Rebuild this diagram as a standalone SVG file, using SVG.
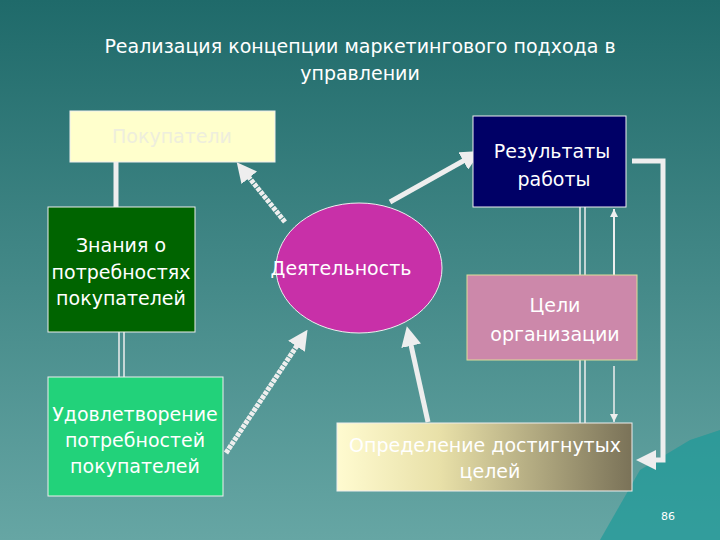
<svg xmlns="http://www.w3.org/2000/svg" width="720" height="540" viewBox="0 0 720 540">
<defs>
<linearGradient id="bg" x1="0" y1="0" x2="0" y2="1"><stop offset="0" stop-color="#1f6a6a"/><stop offset="1" stop-color="#66a6a4"/></linearGradient>
<linearGradient id="opr" x1="0" y1="0" x2="1" y2="0"><stop offset="0" stop-color="#fffbd0"/><stop offset="0.35" stop-color="#e8e0a8"/><stop offset="1" stop-color="#7a7258"/></linearGradient>
<marker id="ah" markerWidth="4" markerHeight="4" refX="2" refY="2" orient="auto" markerUnits="strokeWidth"><path d="M0,0 L4,2 L0,4 Z" fill="#eeeeee"/></marker>
<marker id="sh" markerWidth="8" markerHeight="8" refX="8" refY="4" orient="auto" markerUnits="userSpaceOnUse"><path d="M0,0 L8,4 L0,8 Z" fill="#eeeeee"/></marker>
<style>
.t{font-family:"DejaVu Sans","Liberation Sans",sans-serif;font-size:19px;text-anchor:middle}
.c{stroke:#eeeeee;fill:none}
</style>
</defs>
<rect width="720" height="540" fill="url(#bg)"/>
<path d="M600,540 L640,470 L665,455 L690,440 L720,430 L720,540 Z" fill="#1c9a98" opacity="0.7"/>
<text class="t" x="360" y="53" fill="#ffffff">Реализация концепции маркетингового подхода в</text>
<text class="t" x="360" y="80" fill="#ffffff">управлении</text>
<g id="connectors">
<line class="c" x1="116" y1="162" x2="116" y2="207" stroke-width="5"/>
<line class="c" x1="119" y1="332" x2="119" y2="377" stroke-width="1.5"/>
<line class="c" x1="124" y1="332" x2="124" y2="377" stroke-width="1.5"/>
<line class="c" x1="580" y1="207" x2="580" y2="423" stroke-width="1.5"/>
<line class="c" x1="585" y1="207" x2="585" y2="423" stroke-width="1.5"/>
<line class="c" x1="614" y1="275" x2="614" y2="209" stroke-width="2" marker-end="url(#sh)"/>
<line class="c" x1="614" y1="366" x2="614" y2="422" stroke-width="1.5" marker-end="url(#sh)"/>
<polyline class="c" points="632,161 663,161 663,460 646,460" stroke-width="5" marker-end="url(#ah)"/>
<line class="c" x1="285" y1="222" x2="243" y2="170" stroke-width="5" stroke-dasharray="4 1" marker-end="url(#ah)"/>
<line class="c" x1="390" y1="202" x2="472" y2="156" stroke-width="5" marker-end="url(#ah)"/>
<line class="c" x1="226" y1="453" x2="302" y2="338" stroke-width="5" stroke-dasharray="4 1" marker-end="url(#ah)"/>
<line class="c" x1="428" y1="422" x2="409" y2="336" stroke-width="5" marker-end="url(#ah)"/>
</g>
<g id="pokupateli"><rect x="70" y="111" width="205" height="51" fill="#ffffcc" stroke="#eeeeee"/><text class="t" x="172" y="143" fill="#eeeedd" font-size="15">Покупатели</text></g>
<g id="znaniya"><rect x="48" y="207" width="147" height="125" fill="#006400" stroke="#eeeeee"/><text class="t" x="121" y="252" fill="#ffffff">Знания о</text><text class="t" x="121" y="279" fill="#ffffff">потребностях</text><text class="t" x="121" y="305" fill="#ffffff">покупателей</text></g>
<g id="udovl"><rect x="48" y="377" width="175" height="119" fill="#22d27a" stroke="#eeeeee"/><text class="t" x="135" y="421" fill="#ffffff">Удовлетворение</text><text class="t" x="135" y="447" fill="#ffffff">потребностей</text><text class="t" x="135" y="473" fill="#ffffff">покупателей</text></g>
<g id="deyat"><ellipse cx="359" cy="268" rx="83" ry="65" fill="#c830a8" stroke="#eeeeee"/><text class="t" x="341" y="275" fill="#ffffff">Деятельность</text></g>
<g id="rezult"><rect x="473" y="116" width="153" height="91" fill="#000066" stroke="#eeeeee"/><text class="t" x="552" y="158" fill="#ffffff" font-size="20">Результаты</text><text class="t" x="554" y="186" fill="#ffffff" font-size="20">работы</text></g>
<g id="celi"><rect x="467" y="275" width="170" height="85" fill="#cc88aa" stroke="#dddd99"/><text class="t" x="555" y="312" fill="#ffffff" font-size="20">Цели</text><text class="t" x="555" y="341" fill="#ffffff" font-size="20">организации</text></g>
<g id="opred"><rect x="337" y="423" width="295" height="68" fill="url(#opr)" stroke="#eeeeee"/><text class="t" x="485" y="452" fill="#ffffff">Определение достигнутых</text><text class="t" x="490" y="478" fill="#ffffff">целей</text></g>
<text x="668" y="520" font-family="DejaVu Sans, sans-serif" font-size="11" fill="#ffffff" text-anchor="middle">86</text>
</svg>
